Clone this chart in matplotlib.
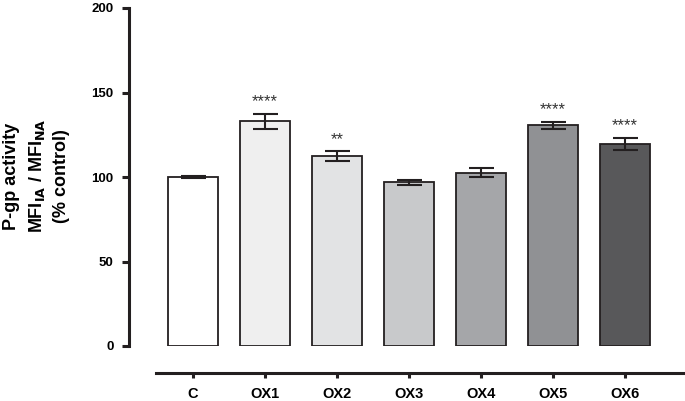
import matplotlib.pyplot as plt

plt.rcParams['font.family'] = ['Liberation Sans', 'DejaVu Sans']
plt.rcParams['font.weight'] = 'bold'

# data
groups = ['C', 'OX1', 'OX2', 'OX3', 'OX4', 'OX5', 'OX6']
activity = [100, 133, 112.5, 96.8, 102.5, 130.6, 119.5]
sem = [0.6, 4.5, 2.8, 1.5, 2.6, 2.0, 3.8]
stars = ['', '****', '**', '', '', '****', '****']
yticks = [0, 50, 100, 150, 200]
colors = ['#ffffff', '#efefef', '#e2e3e4', '#c8c9cb', '#a5a6a9', '#909194', '#58585a']

edge = '#231f20'

fig = plt.figure(figsize=(6.85, 4.01), dpi=100)
ax = fig.add_axes([129 / 685, 1 - 346 / 401, 556 / 685, 338 / 401])

x = list(range(len(groups)))
ax.bar(x, activity, width=0.69, color=colors, edgecolor=edge, linewidth=1.3, zorder=2)
ax.errorbar(x, activity, yerr=sem, fmt='none', ecolor=edge, elinewidth=1.5,
            capsize=9, capthick=1.5, zorder=3)

for xi, v, e, s in zip(x, activity, sem, stars):
    if s:
        ax.text(xi, v + e + 7, s, ha='center', va='center', fontsize=12,
                fontweight='normal', color='#333333')

ax.tick_params(axis='y', direction='out', length=5, width=2.2, pad=6, color=edge,
               labelsize=9.5)
ax.tick_params(axis='x', direction='out', length=3.5, width=2.2, pad=6.5, color=edge,
               labelsize=10.5)

ax.set_xlim(-0.889, 6.833)
ax.set_ylim(0, 200)
ax.set_yticks(yticks)
ax.set_yticklabels([str(t) for t in yticks], fontweight='bold')
ax.set_xticks(x)
ax.set_xticklabels(groups, fontweight='bold')

ax.spines['top'].set_visible(False)
ax.spines['right'].set_visible(False)
ax.spines['left'].set_linewidth(2.2)
ax.spines['left'].set_color(edge)
ax.spines['bottom'].set_linewidth(2.2)
ax.spines['bottom'].set_color(edge)
ax.spines['bottom'].set_position(('outward', 19.5))
ax.spines['bottom'].set_bounds(-0.514, 6.833)

fig.text(0.017, 0.561, 'P-gp activity', rotation=90, ha='center', va='center',
         fontsize=13, fontweight='bold')
fig.text(0.054, 0.561, r'MFI$_{\mathbf{IA}}$ / MFI$_{\mathbf{NA}}$', rotation=90,
         ha='center', va='center', fontsize=13, fontweight='bold')
fig.text(0.090, 0.561, '(% control)', rotation=90, ha='center', va='center',
         fontsize=13, fontweight='bold')

fig.savefig('out.png', dpi=100)
